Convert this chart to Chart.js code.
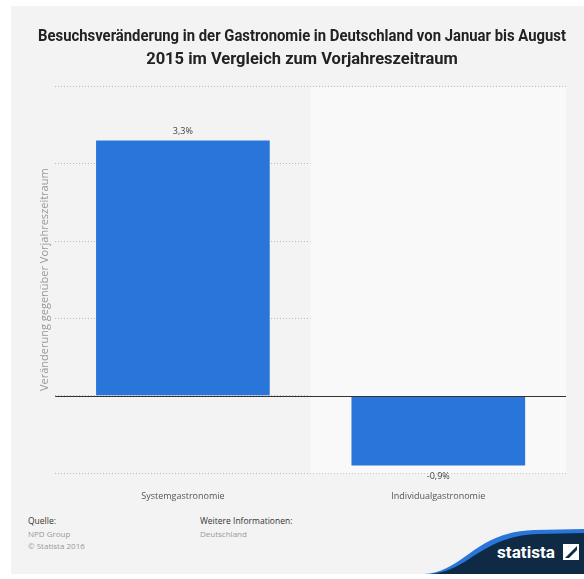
<!DOCTYPE html>
<html>
<head>
<meta charset="utf-8">
<script src="https://cdn.jsdelivr.net/npm/chart.js@4"></script>
<style>
  html, body { margin: 0; padding: 0; background: #fff; }
  body { width: 584px; height: 579px; position: relative; overflow: hidden; font-family: "Open Sans", sans-serif; }
  #panel { position: absolute; left: 11px; top: 6px; right: 0; bottom: 5px; background: #f3f3f3; }
  #wrap { position: absolute; left: 0; top: 0; width: 584px; height: 512px; }
  .foot { position: absolute; font-size: 8px; line-height: 12.5px; color: #999; }
  .foot b { font-weight: normal; color: #333; font-size: 8.5px; }
  #logo { position: absolute; right: 0; bottom: 5px; width: 160px; height: 48px; }
</style>
</head>
<body>
<div id="panel"></div>
<div id="wrap"><canvas id="chart"></canvas></div>
<div class="foot" style="left:28px; top:515px;"><b>Quelle:</b><br>NPD Group<br>© Statista 2016</div>
<div class="foot" style="left:200px; top:515px;"><b>Weitere Informationen:</b><br>Deutschland</div>
<svg id="logo" viewBox="0 0 160 48">
  <path d="M0 48 C40 46 50 6 110 4 L160 3 L160 48 Z" fill="#2a75d9"/>
  <path d="M6 48 C46 45 56 10 114 8 L160 7 L160 48 Z" fill="#0e2a44"/>
  <text x="73" y="32" fill="#fff" font-family="Roboto, sans-serif" font-weight="bold" font-size="17" textLength="58" lengthAdjust="spacingAndGlyphs">statista</text>
  <path d="M139 18 L155 18 L155 34 L139 34 Z" fill="#fff"/>
  <path d="M141 32 L153 20 L153 24 L145 32 Z" fill="#0e2a44"/>
</svg>
<script>
const categories = ["Systemgastronomie", "Individualgastronomie"];
const values = [3.3, -0.9];
const valueLabels = ["3,3%", "-0,9%"];
const titleLines = [
  "Besuchsveränderung in der Gastronomie in Deutschland von Januar bis August",
  "2015 im Vergleich zum Vorjahreszeitraum"
];
const yTitle = "Veränderung gegenüber Vorjahreszeitraum";

// shades every second category column
const bandPlugin = {
  id: "bands",
  beforeDatasetsDraw(chart) {
    const { ctx, chartArea, scales } = chart;
    const x = scales.x;
    const half = (x.getPixelForValue(1) - x.getPixelForValue(0)) / 2;
    ctx.save();
    ctx.fillStyle = "#f9f9f9";
    const left = x.getPixelForValue(1) - half;
    ctx.fillRect(left, chartArea.top + 1, chartArea.right - left, chartArea.bottom - chartArea.top - 1);
    ctx.restore();
  }
};

const zeroAndLabels = {
  id: "zeroAndLabels",
  afterDatasetsDraw(chart) {
    const { ctx, chartArea, scales } = chart;
    const y0 = Math.round(scales.y.getPixelForValue(0)) + 0.5;
    ctx.save();
    ctx.strokeStyle = "#333";
    ctx.lineWidth = 1.2;
    ctx.beginPath();
    ctx.moveTo(chartArea.left, y0);
    ctx.lineTo(chartArea.right, y0);
    ctx.stroke();
    ctx.font = "9px 'Open Sans', sans-serif";
    ctx.fillStyle = "#444";
    ctx.textAlign = "center";
    chart.getDatasetMeta(0).data.forEach((bar, i) => {
      if (values[i] >= 0) {
        ctx.textBaseline = "bottom";
        ctx.fillText(valueLabels[i], bar.x, bar.y - 4);
      } else {
        ctx.textBaseline = "top";
        ctx.fillText(valueLabels[i], bar.x, bar.y + 6);
      }
    });
    ctx.restore();
  }
};

new Chart(document.getElementById("chart"), {
  type: "bar",
  data: {
    labels: categories,
    datasets: [{
      data: values,
      backgroundColor: "#2a75d9",
      categoryPercentage: 0.68,
      barPercentage: 1
    }]
  },
  options: {
    responsive: true,
    maintainAspectRatio: false,
    animation: false,
    layout: { padding: { left: 38, right: 18, top: 10, bottom: 0 } },
    plugins: {
      legend: { display: false },
      tooltip: { enabled: false },
      title: {
        display: true,
        text: titleLines,
        color: "#222",
        font: { family: "Roboto", size: 16.5, weight: "bold", lineHeight: 1.4 },
        padding: { top: 15, bottom: 15 }
      }
    },
    scales: {
      x: {
        grid: { display: false },
        border: { display: false },
        ticks: { color: "#555", font: { size: 9, family: "Open Sans" }, padding: 10 }
      },
      y: {
        min: -1,
        max: 4,
        ticks: { display: false, stepSize: 1 },
        grid: { color: "#bbb", lineWidth: 1, drawTicks: false },
        border: { display: false, dash: [1, 2] },
        title: {
          display: true,
          text: yTitle,
          color: "#999",
          font: { size: 11, family: "Open Sans" },
          padding: { top: 0, bottom: 4 }
        }
      }
    }
  },
  plugins: [bandPlugin, zeroAndLabels]
});
</script>
</body>
</html>
